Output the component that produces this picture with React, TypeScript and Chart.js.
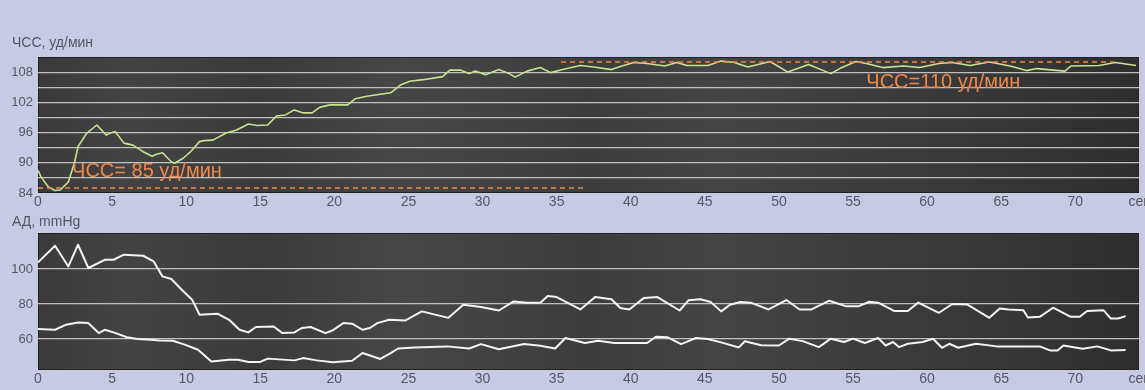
import React, { useEffect, useRef } from "react";
import { Chart, registerables } from "chart.js";

Chart.register(...registerables);

// ---------- data ----------
const hrTime = [
  0, 0.2, 0.7, 1.15, 1.5, 2.05, 2.3, 2.5, 2.7, 3.3, 3.97, 4.6, 4.9, 5.2, 5.8, 6.4, 7.1, 7.7, 8.0, 8.4,
  9.0, 9.2, 9.8, 10.3, 10.9, 11.2, 11.8, 12.7, 13.4, 14.2, 14.8, 15.5, 16.1, 16.7, 17.3, 17.9, 18.5,
  19.0, 19.7, 20.9, 21.4, 22.2, 23.1, 23.8, 24.5, 25.1, 26.0, 27.3, 27.8, 28.5, 29.1, 29.5, 30.2,
  31.1, 31.8, 32.2, 33.0, 33.9, 34.6, 35.4, 36.6, 37.5, 38.7, 39.3, 40.2, 41.1, 42.3, 43.1, 43.8,
  45.2, 46.1, 47.0, 47.9, 48.6, 49.4, 50.6, 52.0, 53.5, 54.1, 55.2, 55.9, 57.0, 58.4, 59.5, 60.8,
  61.7, 62.9, 64.2, 65.6, 66.7, 67.4, 69.3, 69.7, 71.6, 72.7, 74.1,
];
const hrValue = [
  88.5, 87.2, 85.2, 84.5, 84.6, 86.2, 88.5, 90.5, 93.2, 95.9, 97.5, 95.5, 95.9, 96.2, 93.9, 93.5, 92.2, 91.3, 91.7, 92.0,
  90.2, 89.9, 90.9, 92.2, 94.2, 94.4, 94.5, 95.9, 96.5, 97.7, 97.4, 97.5, 99.3, 99.5, 100.5, 99.9, 99.9,
  101.0, 101.5, 101.5, 102.7, 103.2, 103.6, 103.9, 105.5, 106.2, 106.5, 107.1, 108.4, 108.4, 107.7, 108.2, 107.5,
  108.5, 107.7, 107.0, 108.2, 108.9, 107.9, 108.5, 109.3, 109.0, 108.5, 109.1, 109.9, 109.7, 109.2, 109.9, 109.3,
  109.3, 110.2, 109.9, 109.0, 109.5, 110.1, 108.0, 109.5, 107.7, 108.7, 110.1, 109.7, 108.9, 109.2, 108.9, 109.7,
  109.9, 109.3, 110.0, 109.2, 108.3, 108.7, 108.2, 109.2, 109.3, 109.9, 109.3,
];

const sysTime = [
  0, 1.15, 2.05, 2.7, 3.4, 4.5, 5.1, 5.8, 7.1, 7.8, 8.4, 9.0, 9.7, 10.4, 10.9, 12.1, 12.9, 13.6, 14.2,
  14.7, 15.9, 16.5, 17.3, 17.8, 18.4, 19.4, 19.9, 20.6, 21.2, 21.9, 22.4, 22.9, 23.7, 24.8, 25.9, 27.7,
  28.7, 29.9, 31.1, 32.1, 33.0, 33.9, 34.4, 35.0, 36.6, 37.6, 38.7, 39.3, 39.9, 40.9, 41.8, 43.3, 43.9,
  44.7, 45.4, 46.1, 46.7, 47.4, 48.1, 49.3, 50.5, 51.4, 52.2, 53.4, 54.5, 55.4, 56.1, 56.7, 57.8, 58.7,
  59.4, 60.8, 61.7, 62.7, 64.2, 64.9, 65.5, 66.5, 66.8, 67.6, 68.5, 69.7, 70.3, 70.8, 71.9, 72.4, 72.9, 73.4,
];
const sysValue = [
  103.8, 113.3, 101.5, 113.9, 100.6, 105.3, 105.3, 108.2, 107.6, 104.4, 95.8, 94.3, 88.2, 82.5, 73.9, 74.5, 71.0, 65.3, 63.8,
  66.9, 67.2, 63.4, 63.8, 66.3, 66.9, 63.4, 65.0, 69.1, 68.8, 65.3, 66.3, 69.1, 71.0, 70.6, 75.8, 72.1,
  79.6, 78.3, 76.3, 81.5, 80.8, 80.8, 84.6, 84.0, 76.9, 84.0, 82.7, 77.7, 76.9, 83.5, 84.0, 76.3, 82.1,
  82.7, 81.2, 75.8, 79.6, 81.2, 80.8, 76.9, 82.3, 76.9, 76.9, 81.9, 78.8, 78.8, 81.3, 80.8, 76.0, 76.0,
  80.8, 75.0, 80.0, 79.8, 72.1, 77.5, 76.9, 76.5, 72.3, 72.7, 77.9, 72.7, 72.7, 76.0, 76.5, 71.7, 71.7, 73.1,
];

const diaTime = [
  0, 1.15, 1.9, 2.7, 3.4, 4.1, 4.5, 5.1, 6.0, 6.7, 7.6, 8.2, 9.1, 9.9, 10.8, 11.7, 12.9, 13.5, 14.2, 15.0,
  15.5, 17.3, 17.9, 18.8, 19.9, 21.2, 21.9, 23.1, 23.8, 24.3, 25.4, 27.6, 29.1, 29.9, 31.1, 32.8, 33.9,
  34.9, 35.6, 36.9, 37.8, 38.9, 41.1, 41.7, 42.5, 43.4, 44.4, 45.2, 46.1, 47.3, 47.7, 48.8, 50.0, 50.7,
  51.6, 52.7, 53.5, 54.4, 55.0, 55.8, 56.7, 57.2, 57.7, 58.1, 58.7, 59.7, 60.4, 61.0, 61.5, 62.1, 63.3,
  64.7, 67.6, 68.3, 68.8, 69.2, 70.5, 71.5, 72.4, 73.4,
];
const diaValue = [
  65.7, 65.3, 68.2, 69.5, 69.1, 63.4, 65.3, 63.8, 61.0, 60.0, 59.6, 59.2, 59.0, 56.8, 53.9, 47.2, 48.2, 48.2, 46.9, 46.9,
  48.8, 47.8, 49.1, 47.8, 46.7, 47.6, 52.0, 48.6, 52.0, 54.6, 55.2, 55.8, 54.6, 57.1, 54.2, 57.1, 56.2,
  54.6, 60.6, 57.7, 59.0, 57.7, 57.7, 61.3, 61.0, 57.1, 60.6, 60.0, 58.1, 55.2, 58.7, 56.5, 56.3, 60.2,
  58.8, 55.4, 60.2, 58.3, 60.2, 57.7, 60.6, 56.3, 58.3, 55.4, 57.3, 58.3, 60.2, 55.0, 57.3, 55.0, 57.3,
  55.8, 55.8, 53.5, 53.5, 56.3, 54.4, 55.8, 53.5, 53.8,
];

const xTicks = [0, 5, 10, 15, 20, 25, 30, 35, 40, 45, 50, 55, 60, 65, 70];
const xUnitLabel = "сек";
const hrYTicks = [84, 87, 90, 93, 96, 99, 102, 105, 108];
const bpYTicks = [60, 80, 100];

const hrTitle = "ЧСС, уд/мин";
const bpTitle = "АД, mmHg";

const hrBaselineValue = 85;
const hrBaselineRange = [0, 36.8];
const hrPlateauValue = 110;
const hrPlateauRange = [35.3, 72.6];
const hrBaselineLabel = "ЧСС= 85 уд/мин";
const hrBaselineLabelAt = [2.3, 88.2];
const hrPlateauLabel = "ЧСС=110 уд/мин";
const hrPlateauLabelAt = [55.9, 105.9];

// ---------- styling ----------
const FONT = "'Liberation Sans', Arial, sans-serif";
const PAGE_BG = "#c7cae5";
const TEXT = "#555763";
const GRID = "rgba(215,215,215,0.85)";
const ORANGE = "#f0884a";
const HR_LINE = "#c4e492";
const BP_LINE = "#f4f4f4";

const zip = (xs: number[], ys: number[]) => xs.map((x, i) => ({ x, y: ys[i] }));

const plotBackground = {
  id: "plotBackground",
  beforeDraw(chart: any) {
    const { ctx, chartArea: a } = chart;
    ctx.save();
    const g = ctx.createLinearGradient(a.left, 0, a.right, 0);
    g.addColorStop(0, "#3a3a3a");
    g.addColorStop(0.08, "#434343");
    g.addColorStop(0.2, "#3b3b3b");
    g.addColorStop(0.33, "#464646");
    g.addColorStop(0.5, "#3d3d3d");
    g.addColorStop(0.62, "#444444");
    g.addColorStop(0.8, "#3a3a3a");
    g.addColorStop(0.9, "#353535");
    g.addColorStop(1, "#2e2e2e");
    ctx.fillStyle = g;
    ctx.fillRect(a.left, a.top, a.right - a.left, a.bottom - a.top);
    ctx.strokeStyle = "#222";
    ctx.lineWidth = 1;
    ctx.strokeRect(a.left + 0.5, a.top + 0.5, a.right - a.left - 1, a.bottom - a.top - 1);
    ctx.restore();
  },
};

const headerText = {
  id: "headerText",
  afterDraw(chart: any, _args: any, opts: any) {
    const { ctx } = chart;
    ctx.save();
    ctx.font = `14px ${FONT}`;
    ctx.fillStyle = TEXT;
    ctx.textBaseline = "middle";
    ctx.textAlign = "left";
    ctx.fillText(opts.text, opts.x, opts.y);
    ctx.restore();
  },
};

const valueLabels = {
  id: "valueLabels",
  afterDatasetsDraw(chart: any, _args: any, opts: any) {
    if (!opts.items) return;
    const { ctx, scales } = chart;
    ctx.save();
    ctx.font = `20px ${FONT}`;
    ctx.fillStyle = ORANGE;
    ctx.textBaseline = "middle";
    ctx.textAlign = "left";
    for (const it of opts.items) {
      ctx.fillText(it.text, scales.x.getPixelForValue(it.at[0]), scales.y.getPixelForValue(it.at[1]));
    }
    ctx.restore();
  },
};

function makeOptions(cfg: {
  yMin: number;
  yMax: number;
  yTicks: number[];
  yLabel: (v: number) => string;
  gridSkip: number[];
  padTop: number;
  xHeight: number;
  title: string;
  titleY: number;
  labels?: { text: string; at: number[] }[];
}) {
  return {
    animation: false as const,
    responsive: false,
    maintainAspectRatio: false,
    layout: { padding: { top: cfg.padTop, right: 6, left: 0, bottom: 0 } },
    plugins: {
      legend: { display: false },
      tooltip: { enabled: false },
      title: { display: false },
      headerText: { text: cfg.title, x: 12, y: cfg.titleY },
      valueLabels: { items: cfg.labels },
    },
    elements: { point: { radius: 0 }, line: { tension: 0 } },
    scales: {
      x: {
        type: "linear" as const,
        min: 0,
        max: 74.3,
        grid: { display: false, drawTicks: false },
        border: { display: false },
        afterBuildTicks: (s: any) => {
          s.ticks = [...xTicks, s.max].map((v) => ({ value: v }));
        },
        afterFit: (s: any) => {
          s.height = cfg.xHeight;
          s.paddingLeft = 0;
          s.paddingRight = 0;
        },
        ticks: {
          autoSkip: false,
          maxRotation: 0,
          padding: 1,
          color: TEXT,
          font: { family: FONT, size: 14 },
          callback: (v: any, i: number, ticks: any[]) => (i === ticks.length - 1 ? xUnitLabel : String(v)),
        },
      },
      y: {
        type: "linear" as const,
        min: cfg.yMin,
        max: cfg.yMax,
        grid: {
          drawTicks: false,
          lineWidth: 1.2,
          color: (c: any) => (c.tick && cfg.gridSkip.includes(c.tick.value) ? "rgba(0,0,0,0)" : GRID),
        },
        border: { display: false },
        afterBuildTicks: (s: any) => {
          s.ticks = cfg.yTicks.map((v) => ({ value: v }));
        },
        afterFit: (s: any) => {
          s.width = 38;
          s.paddingTop = 0;
          s.paddingBottom = 0;
        },
        ticks: {
          autoSkip: false,
          padding: 5,
          color: TEXT,
          font: { family: FONT, size: 13 },
          callback: (v: any) => cfg.yLabel(Number(v)),
        },
      },
    },
  };
}

function HrChart() {
  const ref = useRef<HTMLCanvasElement>(null);
  useEffect(() => {
    const chart = new Chart(ref.current!, {
      type: "line",
      data: {
        datasets: [
          {
            data: zip(hrBaselineRange, hrBaselineRange.map(() => hrBaselineValue)),
            borderColor: ORANGE,
            borderWidth: 1.5,
            borderDash: [5, 4],
          },
          {
            data: zip(hrPlateauRange, hrPlateauRange.map(() => hrPlateauValue)),
            borderColor: ORANGE,
            borderWidth: 1.5,
            borderDash: [5, 4],
          },
          {
            data: zip(hrTime, hrValue),
            borderColor: HR_LINE,
            borderWidth: 1.6,
            borderJoinStyle: "round",
          },
        ],
      },
      options: makeOptions({
        yMin: 84,
        yMax: 111,
        yTicks: hrYTicks,
        yLabel: (v) => ((v - 84) % 6 === 0 ? String(v) : ""),
        gridSkip: [84],
        padTop: 57,
        xHeight: 19,
        title: hrTitle,
        titleY: 43,
        labels: [
          { text: hrBaselineLabel, at: hrBaselineLabelAt },
          { text: hrPlateauLabel, at: hrPlateauLabelAt },
        ],
      }) as any,
      plugins: [plotBackground, headerText, valueLabels],
    });
    return () => chart.destroy();
  }, []);
  return <canvas ref={ref} width={1145} height={212} style={{ display: "block" }} />;
}

function BpChart() {
  const ref = useRef<HTMLCanvasElement>(null);
  useEffect(() => {
    const chart = new Chart(ref.current!, {
      type: "line",
      data: {
        datasets: [
          { data: zip(sysTime, sysValue), borderColor: BP_LINE, borderWidth: 2, borderJoinStyle: "round" },
          { data: zip(diaTime, diaValue), borderColor: BP_LINE, borderWidth: 2, borderJoinStyle: "round" },
        ],
      },
      options: makeOptions({
        yMin: 42.3,
        yMax: 120.6,
        yTicks: bpYTicks,
        yLabel: (v) => String(v),
        gridSkip: [],
        padTop: 21,
        xHeight: 20,
        title: bpTitle,
        titleY: 10,
      }) as any,
      plugins: [plotBackground, headerText, valueLabels],
    });
    return () => chart.destroy();
  }, []);
  return <canvas ref={ref} width={1145} height={178} style={{ display: "block" }} />;
}

export default function App() {
  return (
    <div
      style={{
        position: "fixed",
        left: 0,
        top: 0,
        width: 1145,
        height: 390,
        background: PAGE_BG,
        overflow: "hidden",
      }}
    >
      <HrChart />
      <BpChart />
    </div>
  );
}
